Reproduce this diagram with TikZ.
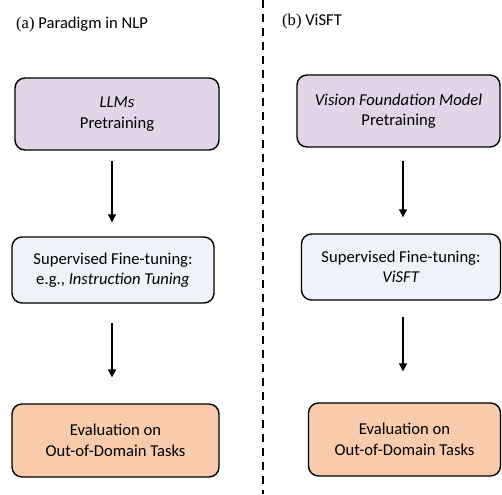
\documentclass[tikz,border=0pt]{standalone}
\usepackage{fontspec}
\setmainfont{Carlito}
\newfontfamily\serifparen{Liberation Serif}
\usetikzlibrary{arrows.meta}
\definecolor{pbox}{HTML}{E1D5E7}
\definecolor{bbox}{HTML}{EEF2F9}
\definecolor{obox}{HTML}{F8CBAD}
\tikzset{
  stagebox/.style={draw=black, line width=1.4pt, rounded corners=10pt, align=center,
    font=\fontsize{16.6}{20.5}\selectfont, inner sep=0pt},
  arr/.style={line width=1.3pt, -{Triangle[width=8pt,length=8pt]}},
  ttl/.style={anchor=west, font=\fontsize{16.6}{20}\selectfont, inner sep=0pt},
}
\begin{document}
\begin{tikzpicture}[x=1pt,y=-1pt]
\useasboundingbox (0,0) rectangle (502,494);
\draw[line width=1.8pt, dash pattern=on 8pt off 6pt] (263,0) -- (263,494);
\node[ttl] (ta) at (16,25) {{\serifparen(a)} Paradigm in NLP};
\node[ttl] (tb) at (282,22) {{\serifparen(b)} ViSFT};
\node[stagebox, fill=pbox, minimum width=204pt, minimum height=72pt] (b1L) at (117,114) {\textit{LLMs}\\Pretraining};
\node[stagebox, fill=pbox, minimum width=203pt, minimum height=72pt] (b1R) at (398.5,111) {\textit{Vision Foundation Model}\\Pretraining};
\node[stagebox, fill=bbox, minimum width=202pt, minimum height=66pt] (b2L) at (113,270) {Supervised Fine-tuning:\\e.g., \textit{Instruction Tuning}};
\node[stagebox, fill=bbox, minimum width=199pt, minimum height=66pt] (b2R) at (401,267) {Supervised Fine-tuning:\\\textit{ViSFT}};
\node[stagebox, fill=obox, minimum width=207pt, minimum height=73pt] (b3L) at (115.5,440.5) {Evaluation on\\Out-of-Domain Tasks};
\node[stagebox, fill=obox, minimum width=192pt, minimum height=73pt] (b3R) at (404.5,439.5) {Evaluation on\\Out-of-Domain Tasks};
\draw[arr, shorten <=10pt, shorten >=14pt] (b1L.south -| 112,0) -- (b2L.north -| 112,0);
\draw[arr, shorten <=13pt, shorten >=16pt] (b1R.south -| 403,0) -- (b2R.north -| 403,0);
\draw[arr, shorten <=19pt, shorten >=26pt] (b2L.south -| 112,0) -- (b3L.north -| 112,0);
\draw[arr, shorten <=16pt, shorten >=31pt] (b2R.south -| 403,0) -- (b3R.north -| 403,0);
\end{tikzpicture}
\end{document}
